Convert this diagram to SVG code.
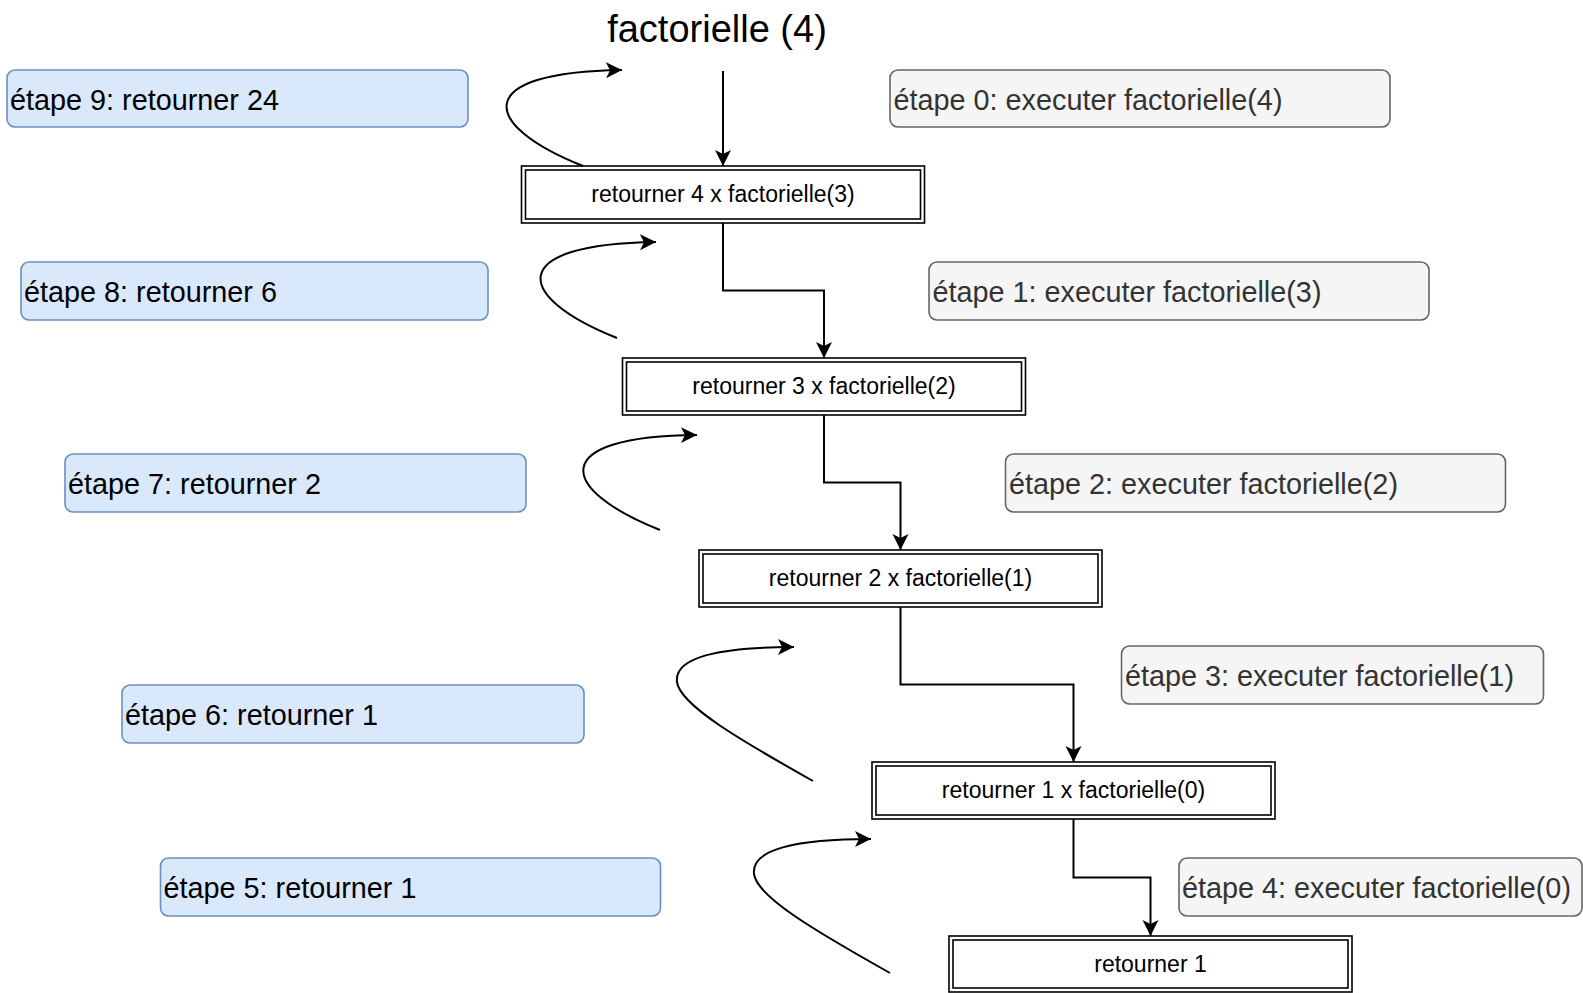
<svg xmlns="http://www.w3.org/2000/svg" width="1583" height="993" viewBox="0 0 1583 993">
<defs>
<style>
text{font-family:"Liberation Sans",Arial,Helvetica,sans-serif;}
.fn rect{fill:#fff;stroke:#000;stroke-width:1.6;}
.fn text{font-size:23px;fill:#000;text-anchor:middle;}
.blue rect{fill:#dae8fc;stroke:#6c8ebf;stroke-width:1.6;}
.blue text{font-size:28.8px;fill:#000;}
.grey rect{fill:#f5f5f5;stroke:#666;stroke-width:1.6;}
.grey text{font-size:28.8px;fill:#333;}
.edge{fill:none;stroke:#000;stroke-width:2;marker-end:url(#arr);}
</style>
<marker id="arr" markerUnits="userSpaceOnUse" markerWidth="18" markerHeight="18" refX="16" refY="8" orient="auto">
<path d="M0,0 L16,8 L0,16 L4,8 Z" fill="#000"/>
</marker>
</defs>
<rect width="1583" height="993" fill="#fff"/>

<g id="title"><text x="717" y="42" font-size="38" text-anchor="middle" fill="#000">factorielle (4)</text></g>

<g id="box1" class="fn"><rect x="521.5" y="166" width="403" height="57"/><rect x="525.5" y="170" width="395" height="49"/><text x="723" y="202">retourner 4 x factorielle(3)</text></g>
<g id="box2" class="fn"><rect x="622.5" y="358" width="403" height="57"/><rect x="626.5" y="362" width="395" height="49"/><text x="824" y="394">retourner 3 x factorielle(2)</text></g>
<g id="box3" class="fn"><rect x="699" y="550" width="403" height="57"/><rect x="703" y="554" width="395" height="49"/><text x="900.5" y="586">retourner 2 x factorielle(1)</text></g>
<g id="box4" class="fn"><rect x="872" y="762" width="403" height="57"/><rect x="876" y="766" width="395" height="49"/><text x="1073.5" y="798">retourner 1 x factorielle(0)</text></g>
<g id="box5" class="fn"><rect x="949" y="936" width="403" height="56"/><rect x="953" y="940" width="395" height="48"/><text x="1150.5" y="971.5">retourner 1</text></g>

<g id="step9" class="blue"><rect x="7" y="70" width="461" height="57" rx="8"/><text x="10" y="109.5">étape 9: retourner 24</text></g>
<g id="step8" class="blue"><rect x="21" y="262" width="467" height="58" rx="8"/><text x="24" y="302">étape 8: retourner 6</text></g>
<g id="step7" class="blue"><rect x="65" y="454" width="461" height="58" rx="8"/><text x="68" y="494">étape 7: retourner 2</text></g>
<g id="step6" class="blue"><rect x="122" y="685" width="462" height="58" rx="8"/><text x="125" y="725">étape 6: retourner 1</text></g>
<g id="step5" class="blue"><rect x="160.5" y="858" width="500" height="58" rx="8"/><text x="163.5" y="898">étape 5: retourner 1</text></g>

<g id="step0" class="grey"><rect x="890" y="70" width="500" height="57" rx="8"/><text x="893.5" y="109.5">étape 0: executer factorielle(4)</text></g>
<g id="step1" class="grey"><rect x="929" y="262" width="500" height="58" rx="8"/><text x="932.5" y="302">étape 1: executer factorielle(3)</text></g>
<g id="step2" class="grey"><rect x="1005.5" y="454" width="500" height="58" rx="8"/><text x="1009" y="494">étape 2: executer factorielle(2)</text></g>
<g id="step3" class="grey"><rect x="1121.5" y="646" width="422" height="58" rx="8"/><text x="1125" y="686">étape 3: executer factorielle(1)</text></g>
<g id="step4" class="grey"><rect x="1179" y="858" width="403" height="58" rx="8"/><text x="1182" y="898">étape 4: executer factorielle(0)</text></g>

<g id="connectors">
<path class="edge" d="M723 71 L723 166"/>
<path class="edge" d="M723 223 L723 290.5 L824 290.5 L824 358"/>
<path class="edge" d="M824 415 L824 482.5 L900.5 482.5 L900.5 550"/>
<path class="edge" d="M900.5 607 L900.5 684.5 L1073.5 684.5 L1073.5 762"/>
<path class="edge" d="M1073.5 819 L1073.5 877.5 L1150.5 877.5 L1150.5 936"/>
<path class="edge" d="M583 166 C480 125 470 72 622 70"/>
<path class="edge" d="M617 338 C514 297 504 244 656 242"/>
<path class="edge" d="M660 530 C557 489 547 436 697 435"/>
<path class="edge" d="M813 781 C740 740 680 705 677 682 C674 657 720 647 794 647"/>
<path class="edge" d="M890 973 C817 932 757 897 754 874 C751 849 797 839 871 839"/>
</g>
</svg>
